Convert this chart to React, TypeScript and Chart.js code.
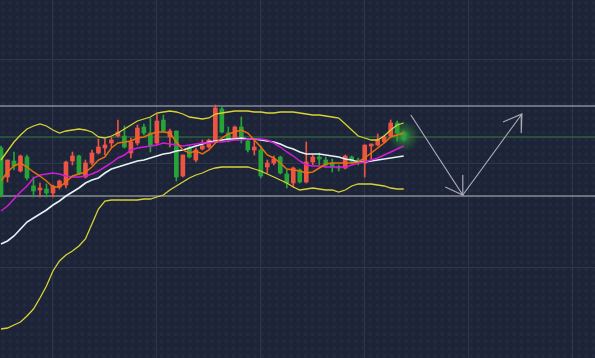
import React, { useEffect, useRef } from "react";
import { Chart, registerables } from "chart.js";

Chart.register(...registerables);

// ---- Candles (price units) ----
const OPEN = [210, 181, 197, 187, 201, 172, 168, 169, 165, 171, 173, 197, 202, 181, 195, 205, 210, 215, 222, 222, 205, 215, 231, 225, 215, 238, 221, 227, 182, 210, 198, 209, 211, 217, 249, 225, 219, 231, 217, 208, 208, 191, 195, 201, 184, 175, 188, 176, 196, 201, 198, 195, 191, 190, 201, 198, 195, 212, 213, 216, 222, 235, 225];
const HIGH = [212, 198, 206, 203, 203, 181, 175, 174, 173, 178, 197, 206, 203, 198, 208, 219, 219, 221, 238, 232, 220, 233, 234, 240, 244, 243, 229, 227, 203, 212, 210, 218, 219, 253, 251, 231, 232, 241, 219, 218, 212, 198, 202, 202, 188, 191, 189, 216, 203, 205, 201, 199, 193, 203, 202, 200, 213, 214, 224, 223, 238, 237, 227];
const LOW = [161, 176, 188, 186, 178, 161, 161, 161, 161, 169, 170, 193, 183, 180, 193, 204, 203, 211, 221, 210, 200, 213, 223, 206, 213, 226, 211, 177, 181, 200, 196, 208, 210, 216, 225, 216, 218, 215, 206, 203, 180, 185, 193, 184, 170, 171, 175, 175, 193, 193, 191, 186, 187, 189, 195, 193, 181, 199, 212, 215, 221, 217, 217];
const CLOSE = [163, 198, 192, 202, 180, 167, 170, 165, 172, 177, 196, 202, 184, 195, 205, 211, 213, 218, 226, 211, 216, 230, 225, 212, 237, 227, 227, 181, 203, 201, 208, 212, 218, 250, 226, 218, 231, 221, 208, 211, 182, 195, 199, 185, 175, 190, 176, 196, 201, 199, 193, 191, 190, 202, 197, 195, 213, 214, 218, 221, 235, 225, 219];

// ---- Indicators ----
const BOLL_UPPER = [198, 207, 216, 223, 229, 232, 234, 232, 228, 225, 227, 228, 229, 228, 226, 221, 220, 222, 225, 229, 233, 237, 239, 241, 245, 246, 247, 246, 244, 241, 240, 239, 240, 244, 245, 246, 247, 247, 247, 246, 246, 245, 245, 246, 246, 246, 245, 244, 243, 243, 242, 241, 240, 234, 228, 222, 220, 218, 218, 222, 228, 233, 235];
const BOLL_MID = [114, 117, 122, 129, 136, 140, 144, 148, 153, 157, 162, 166, 170, 175, 178, 180, 185, 189, 191, 193, 195, 197, 198, 200, 202, 204, 205, 207, 208, 210, 212, 214, 216, 217, 218, 219, 219, 220, 219, 219, 218, 217, 216, 214, 211, 209, 206, 204, 204, 204, 203, 202, 201, 199, 198, 196, 196, 197, 198, 199, 200, 201, 202];
const BOLL_LOWER = [29, 30, 33, 36, 42, 49, 60, 72, 87, 97, 103, 107, 112, 119, 134, 149, 157, 158, 158, 158, 158, 158, 159, 159, 161, 163, 168, 172, 176, 180, 183, 185, 188, 190, 191, 191, 191, 191, 191, 189, 187, 184, 181, 178, 175, 171, 168, 169, 170, 169, 168, 168, 166, 168, 172, 174, 174, 174, 173, 172, 170, 169, 169];
const MA_FAST = [177, 186, 192, 195, 191, 186, 182, 177, 171, 171, 176, 182, 184, 186, 191, 198, 201, 210, 215, 216, 217, 220, 221, 224, 226, 226, 225, 216, 208, 205, 207, 204, 208, 215, 220, 224, 226, 228, 225, 218, 211, 203, 200, 195, 189, 188, 187, 185, 186, 190, 194, 195, 195, 195, 195, 196, 200, 205, 210, 215, 221, 223, 225];
const MA_MID = [147, 152, 159, 166, 172, 180, 183, 184, 185, 184, 182, 181, 181, 182, 184, 187, 191, 195, 200, 203, 208, 210, 211, 212, 213, 215, 214, 213, 212, 213, 214, 215, 215, 216, 216, 217, 218, 218, 219, 219, 219, 218, 215, 211, 206, 202, 197, 193, 192, 192, 191, 191, 191, 191, 193, 195, 196, 198, 200, 203, 206, 209, 212];

// ---- Drawn levels and projection arrows (price / bar-index units) ----
const RESISTANCE = 252;
const PIVOT = 221;
const SUPPORT = 162;
const ARROW_X = [63.1, 71.1, 80.2];
const ARROW_Y = [243, 163, 244];
const HEAD_DOWN_X = [68.4, 71.1, 71.1];
const HEAD_DOWN_Y = [171, 163, 183];
const HEAD_UP_X = [77.3, 80.2, 80.1];
const HEAD_UP_Y = [236, 244, 225];

const X_MIN = -0.154;
const X_MAX = 91.455;
const Y_MIN = 0;
const Y_MAX = 358;

const BG = "#1d2437";
const DOT = "#222a3f";
const GRID = "#2e364c";
const RED = "#ec5444";
const GREEN = "#27a33a";

export default function App() {
  const ref = useRef<HTMLCanvasElement>(null);

  useEffect(() => {
    document.body.style.margin = "0";
    document.body.style.background = BG;
    const canvas = ref.current;
    if (!canvas) return;

    const idx = OPEN.map((_, i) => i);
    const colors = idx.map((i) => (CLOSE[i] >= OPEN[i] ? RED : GREEN));

    const line = (arr: number[], color: string, width: number, order: number) => ({
      type: "line",
      data: arr.map((v, i) => ({ x: i, y: v })),
      borderColor: color,
      borderWidth: width,
      pointRadius: 0,
      tension: 0,
      fill: false,
      order,
    });
    const path = (xs: number[], ys: number[], color: string, width: number, order: number) => ({
      type: "line",
      data: xs.map((x, i) => ({ x, y: ys[i] })),
      borderColor: color,
      borderWidth: width,
      pointRadius: 0,
      tension: 0,
      fill: false,
      order,
    });

    const background = {
      id: "bgDots",
      beforeDraw(chart: any) {
        const { ctx, width, height } = chart;
        ctx.save();
        ctx.fillStyle = BG;
        ctx.fillRect(0, 0, width, height);
        ctx.fillStyle = DOT;
        for (let y = 3; y < height; y += 7.2) {
          for (let x = 3; x < width; x += 7.2) {
            ctx.beginPath();
            ctx.arc(x, y, 2.1, 0, Math.PI * 2);
            ctx.fill();
          }
        }
        ctx.strokeStyle = GRID;
        ctx.lineWidth = 1;
        for (let x = 52; x < width; x += 104) {
          ctx.beginPath();
          ctx.moveTo(x + 0.5, 0);
          ctx.lineTo(x + 0.5, height);
          ctx.stroke();
        }
        for (let y = 59; y < height; y += 104) {
          ctx.beginPath();
          ctx.moveTo(0, y + 0.5);
          ctx.lineTo(width, y + 0.5);
          ctx.stroke();
        }
        ctx.restore();
      },
    };

    const glow = {
      id: "lastGlow",
      beforeDatasetsDraw(chart: any) {
        const { ctx } = chart;
        const last = OPEN.length - 1;
        const px = chart.scales.x.getPixelForValue(last);
        const py = chart.scales.y.getPixelForValue((OPEN[last] + CLOSE[last]) / 2);
        const g = ctx.createRadialGradient(px, py, 0, px, py, 16);
        g.addColorStop(0, "rgba(70,230,70,0.75)");
        g.addColorStop(0.4, "rgba(60,200,60,0.35)");
        g.addColorStop(1, "rgba(40,160,40,0)");
        ctx.save();
        ctx.fillStyle = g;
        ctx.beginPath();
        ctx.arc(px, py, 16, 0, Math.PI * 2);
        ctx.fill();
        ctx.restore();
      },
    };

    const chart = new Chart(canvas, {
      type: "bar",
      data: {
        datasets: [
          path([X_MIN, X_MAX], [RESISTANCE, RESISTANCE], "#b9bbbf", 1.1, 30),
          path([X_MIN, X_MAX], [SUPPORT, SUPPORT], "#b9bbbf", 1.1, 30),
          path([X_MIN, X_MAX], [PIVOT, PIVOT], "#3a7a45", 1, 30),
          {
            type: "bar",
            data: idx.map((i) => ({ x: i, y: [LOW[i], HIGH[i]] })),
            backgroundColor: colors,
            borderWidth: 0,
            barThickness: 1,
            grouped: false,
            order: 12,
          },
          {
            type: "bar",
            data: idx.map((i) => ({ x: i, y: [OPEN[i], CLOSE[i]] })),
            backgroundColor: colors,
            borderWidth: 0,
            barThickness: 4,
            minBarLength: 1,
            grouped: false,
            order: 11,
          },
          line(BOLL_UPPER, "#d9d235", 1.3, 5),
          line(BOLL_LOWER, "#d9d235", 1.3, 5),
          line(BOLL_MID, "#e4f3f7", 1.6, 4),
          line(MA_MID, "#d21cd6", 1.5, 3),
          line(MA_FAST, "#e8700f", 1.5, 2),
          path(ARROW_X, ARROW_Y, "#a8abb2", 1.2, 0),
          path(HEAD_DOWN_X, HEAD_DOWN_Y, "#a8abb2", 1.2, 0),
          path(HEAD_UP_X, HEAD_UP_Y, "#a8abb2", 1.2, 0),
        ] as any,
      },
      options: {
        animation: false,
        responsive: false,
        devicePixelRatio: 1,
        layout: { padding: 0 },
        plugins: { legend: { display: false }, tooltip: { enabled: false } },
        scales: {
          x: { type: "linear", min: X_MIN, max: X_MAX, display: false, offset: false },
          y: { type: "linear", min: Y_MIN, max: Y_MAX, display: false },
        },
      } as any,
      plugins: [background, glow],
    });

    return () => chart.destroy();
  }, []);

  return (
    <canvas
      ref={ref}
      width={595}
      height={358}
      style={{ display: "block", width: 595, height: 358 }}
    />
  );
}
